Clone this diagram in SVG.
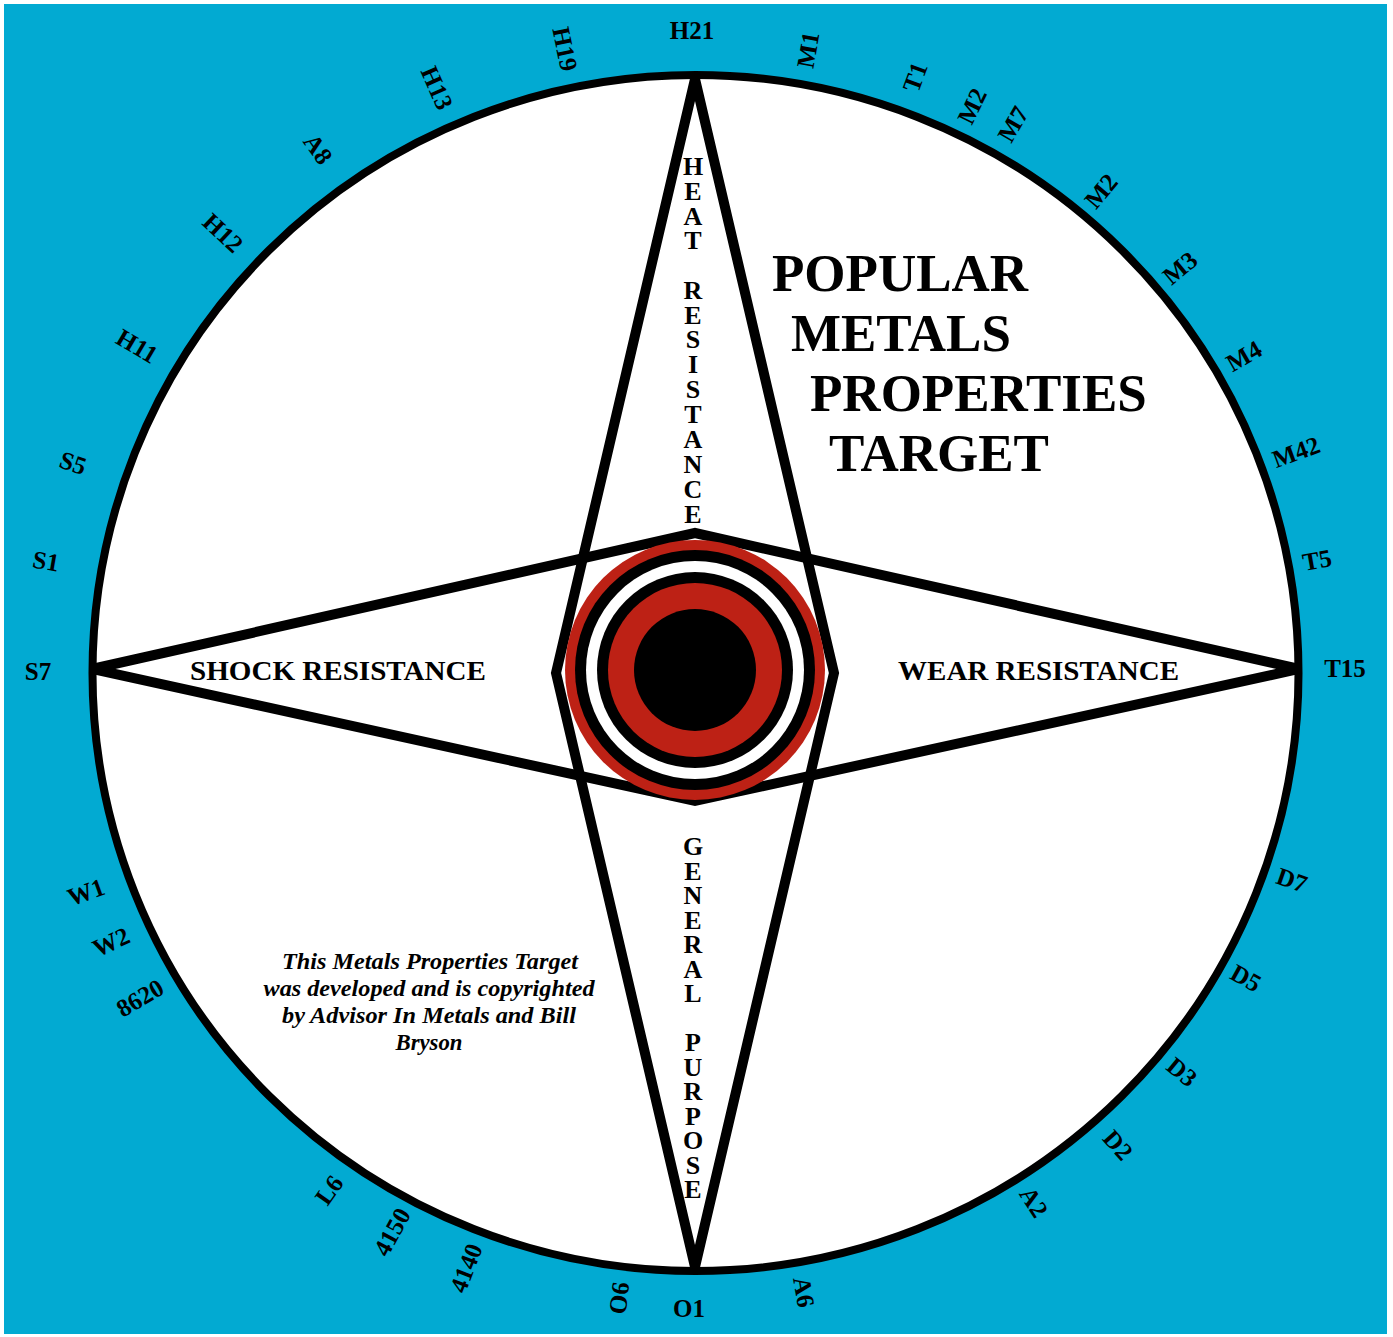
<svg xmlns="http://www.w3.org/2000/svg" width="1393" height="1337" viewBox="0 0 1393 1337">
<defs>
<style>
.lbl{font-family:"Liberation Serif","Times New Roman",serif;font-weight:bold;font-size:25px;text-anchor:middle;dominant-baseline:central;fill:#000}
.vert{font-family:"Liberation Serif","Times New Roman",serif;font-weight:bold;font-size:26px;text-anchor:middle;fill:#000}
.axis{font-family:"Liberation Serif","Times New Roman",serif;font-weight:bold;font-size:27px;fill:#000}
.title{font-family:"Liberation Serif","Times New Roman",serif;font-weight:bold;font-size:53px;fill:#000}
.copy{font-family:"Liberation Serif","Times New Roman",serif;font-weight:bold;font-style:italic;font-size:23px;text-anchor:middle;fill:#000}
.fillw{fill:#fff;stroke:none}
.line{fill:none;stroke:#000;stroke-width:10;stroke-linejoin:miter;stroke-miterlimit:20}
</style>
<clipPath id="inside"><ellipse cx="695.5" cy="673" rx="603" ry="598"/></clipPath>
</defs>
<rect x="4" y="4" width="1383" height="1330" fill="#02AAD2"/>
<g id="target">
<ellipse cx="695.5" cy="673" rx="603" ry="598" fill="#fff"/>
</g>
<g id="connectors" clip-path="url(#inside)">
<polygon class="line" points="695,79 834,673 695,1267 556,673"/>
<polygon class="line" points="92,669 695,533 1299,669 695,801"/>
</g>
<g id="bullseye">
<circle cx="695" cy="670" r="130" fill="#BD2115"/>
<circle cx="695" cy="670" r="120" fill="#000"/>
<circle cx="695" cy="670" r="109" fill="#fff"/>
<circle cx="695" cy="670" r="98" fill="#000"/>
<circle cx="695" cy="670" r="87" fill="#BD2115"/>
<circle cx="695" cy="670" r="61" fill="#000"/>
</g>
<g id="rim">
<ellipse cx="695.5" cy="673" rx="603" ry="598" fill="none" stroke="#000" stroke-width="8"/>
</g>
<g id="heat">
<text class="vert"><tspan x="693" y="175">H</tspan><tspan x="693" y="200">E</tspan><tspan x="693" y="225">A</tspan><tspan x="693" y="249">T</tspan><tspan x="693" y="299">R</tspan><tspan x="693" y="324">E</tspan><tspan x="693" y="348">S</tspan><tspan x="693" y="373">I</tspan><tspan x="693" y="398">S</tspan><tspan x="693" y="423">T</tspan><tspan x="693" y="448">A</tspan><tspan x="693" y="473">N</tspan><tspan x="693" y="498">C</tspan><tspan x="693" y="523">E</tspan></text>
</g>
<g id="general">
<text class="vert"><tspan x="693" y="855">G</tspan><tspan x="693" y="880">E</tspan><tspan x="693" y="904">N</tspan><tspan x="693" y="929">E</tspan><tspan x="693" y="953">R</tspan><tspan x="693" y="978">A</tspan><tspan x="693" y="1002">L</tspan><tspan x="693" y="1051">P</tspan><tspan x="693" y="1076">U</tspan><tspan x="693" y="1100">R</tspan><tspan x="693" y="1125">P</tspan><tspan x="693" y="1149">O</tspan><tspan x="693" y="1174">S</tspan><tspan x="693" y="1198">E</tspan></text>
</g>
<g id="shock"><text class="axis" x="190" y="680" textLength="296" lengthAdjust="spacingAndGlyphs">SHOCK RESISTANCE</text></g>
<g id="wear"><text class="axis" x="898" y="680" textLength="281" lengthAdjust="spacingAndGlyphs">WEAR RESISTANCE</text></g>
<g id="title">
<text class="title" x="772" y="291">POPULAR</text>
<text class="title" x="791" y="351">METALS</text>
<text class="title" x="810" y="411">PROPERTIES</text>
<text class="title" x="829" y="471">TARGET</text>
</g>
<g id="copyright">
<text class="copy" x="430" y="969" textLength="296" lengthAdjust="spacingAndGlyphs">This Metals Properties Target</text>
<text class="copy" x="429" y="996" textLength="331" lengthAdjust="spacingAndGlyphs">was developed and is copyrighted</text>
<text class="copy" x="429" y="1023" textLength="294" lengthAdjust="spacingAndGlyphs">by Advisor In Metals and Bill</text>
<text class="copy" x="429" y="1050" textLength="67" lengthAdjust="spacingAndGlyphs">Bryson</text>
</g>
<g id="labels">
<text class="lbl" transform="translate(692,30)">H21</text>
<text class="lbl" transform="translate(808,50) rotate(-79.8)">M1</text>
<text class="lbl" transform="translate(915,77) rotate(-69.8)">T1</text>
<text class="lbl" transform="translate(972,106) rotate(-64)">M2</text>
<text class="lbl" transform="translate(1013,124) rotate(-60)">M7</text>
<text class="lbl" transform="translate(1101,191) rotate(-49.9)">M2</text>
<text class="lbl" transform="translate(1180,268) rotate(-39.9)">M3</text>
<text class="lbl" transform="translate(1244,356) rotate(-30)">M4</text>
<text class="lbl" transform="translate(1296,452) rotate(-20.2)">M42</text>
<text class="lbl" transform="translate(1317,560) rotate(-10.3)">T5</text>
<text class="lbl" transform="translate(1345,668)">T15</text>
<text class="lbl" transform="translate(1292,880) rotate(19.1)">D7</text>
<text class="lbl" transform="translate(1246,978) rotate(29)">D5</text>
<text class="lbl" transform="translate(1182,1072) rotate(39.4)">D3</text>
<text class="lbl" transform="translate(1118,1145) rotate(48.2)">D2</text>
<text class="lbl" transform="translate(1034,1202) rotate(57.4)">A2</text>
<text class="lbl" transform="translate(804,1292) rotate(80.1)">A6</text>
<text class="lbl" transform="translate(689,1308)">O1</text>
<text class="lbl" transform="translate(619,1298) rotate(-83)">O6</text>
<text class="lbl" transform="translate(466,1268) rotate(-68.9)">4140</text>
<text class="lbl" transform="translate(392,1232) rotate(-61.5)">4150</text>
<text class="lbl" transform="translate(329,1190) rotate(-54.7)">L6</text>
<text class="lbl" transform="translate(140,998) rotate(-30.3)">8620</text>
<text class="lbl" transform="translate(111,942) rotate(-24.7)">W2</text>
<text class="lbl" transform="translate(86,892) rotate(-19.8)">W1</text>
<text class="lbl" transform="translate(38,671)">S7</text>
<text class="lbl" transform="translate(46,561) rotate(9.8)">S1</text>
<text class="lbl" transform="translate(73,463) rotate(18.6)">S5</text>
<text class="lbl" transform="translate(137,346) rotate(30.4)">H11</text>
<text class="lbl" transform="translate(223,233) rotate(43)">H12</text>
<text class="lbl" transform="translate(318,149) rotate(54.2)">A8</text>
<text class="lbl" transform="translate(437,88) rotate(66.2)">H13</text>
<text class="lbl" transform="translate(565,49) rotate(78.2)">H19</text>
</g>
</svg>
